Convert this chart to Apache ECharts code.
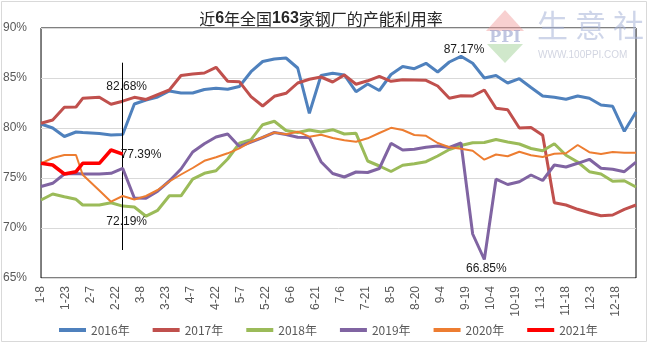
<!DOCTYPE html>
<html><head><meta charset="utf-8">
<script src="https://cdn.jsdelivr.net/npm/echarts@6/dist/echarts.min.js"></script>
<style>html,body{margin:0;padding:0;background:#fff}#c{width:649px;height:344px}</style>
</head><body><div id="c"></div>
<script>
// Weekly report dates (shared by every year)
const dates = ['1-8','1-15','1-22','1-29','2-2','2-12','2-19','2-26','3-4','3-11','3-18','3-25','4-1','4-8','4-15','4-22','4-29','5-6','5-13','5-20','5-27','6-3','6-10','6-17','6-24','7-1','7-8','7-15','7-22','7-29','8-5','8-12','8-19','8-26','9-2','9-9','9-16','9-23','9-30','10-7','10-14','10-21','10-28','11-4','11-11','11-18','11-25','12-2','12-9','12-16','12-23','12-30'];
const tickLabels = ['1-8','1-23','2-7','2-22','3-8','3-23','4-7','4-22','5-7','5-22','6-6','6-21','7-6','7-21','8-5','8-20','9-4','9-19','10-4','10-19','11-3','11-18','12-3','12-18'];
const yTicks = [65,70,75,80,85,90];

const y2016 = [80.4,80.0,79.15,79.6,79.55,79.45,79.3,79.35,82.4,82.8,83.1,83.7,83.5,83.5,83.85,83.97,83.87,84.15,85.63,86.65,86.9,87.0,86.0,81.47,85.25,85.47,85.3,83.63,84.4,83.75,85.35,86.15,85.93,86.47,85.6,86.6,87.17,86.47,85.0,85.25,84.5,84.93,84.05,83.2,83.07,82.87,83.2,82.97,82.3,82.17,79.67,81.6];
const y2017 = [80.47,80.8,82.07,82.1,82.97,83.07,82.37,82.68,83.07,82.85,83.33,83.8,85.25,85.4,85.5,86.07,84.67,84.63,83.13,82.2,83.17,83.47,84.5,84.88,85.1,84.6,85.3,84.38,84.72,85.17,84.67,84.83,84.8,84.77,84.2,82.97,83.22,83.2,83.8,81.97,81.83,80.0,80.05,79.27,72.53,72.3,71.87,71.53,71.22,71.3,71.87,72.3];
const y2018 = [72.8,73.4,73.13,72.87,72.3,72.3,72.53,72.19,72.1,71.18,71.77,73.22,73.22,74.88,75.47,75.72,76.9,78.47,78.83,80.33,80.67,79.75,79.55,79.8,79.6,79.83,79.4,79.47,76.7,76.2,75.65,76.27,76.42,76.63,77.2,77.85,78.25,78.52,78.55,78.85,78.6,78.4,77.95,77.72,78.43,77.27,76.6,75.63,75.4,74.67,74.72,74.1];
const y2019 = [74.15,74.47,75.4,75.45,75.4,75.4,75.47,75.97,73.0,72.97,73.68,74.7,75.9,77.6,78.43,79.1,79.4,78.15,78.6,79.05,79.55,79.35,79.07,79.05,76.63,75.45,75.1,75.6,75.55,75.95,78.47,77.8,77.87,78.07,78.2,78.05,78.5,69.4,66.85,74.88,74.35,74.63,75.3,74.75,76.3,76.1,76.47,76.87,75.97,75.87,75.63,76.58];
const y2020 = [76.47,77.0,77.3,77.3,75.33,73.75,72.63,73.2,72.85,73.2,73.8,74.65,75.35,76.0,76.72,77.07,77.47,77.97,78.63,79.08,79.55,79.38,79.63,79.13,79.33,79.0,78.77,78.63,78.97,79.5,80.02,79.8,79.3,79.22,78.5,78.08,77.93,77.72,76.83,77.35,77.17,77.63,77.27,77.1,77.43,77.47,78.3,77.58,77.4,77.6,77.53,77.53];
const y2021 = [76.47,76.3,75.4,75.63,76.47,76.47,77.8,77.39];

const names = ['2016年','2017年','2018年','2019年','2020年','2021年'];
const colors = ['#4f81bd','#c0504d','#9bbb59','#8064a2','#ed7d31','#ff0000'];
const widths = [3,3,3,3,2,3.5];

const mdays = [31,29,31,30,31,30,31,31,30,31,30,31];
function dayOf(s){const p=s.split('-').map(Number);let d=p[1];for(let i=0;i<p[0]-1;i++)d+=mdays[i];return d;}
const xs = dates.map(dayOf);
const tickDays = tickLabels.map(dayOf);

function pts(arr){return arr.map((v,i)=>[xs[i],v]);}
function mp(arr,i,pos,off){return {coord:[xs[i],arr[i]],value:arr[i],label:{position:pos,offset:off}};}

const allY=[y2016,y2017,y2018,y2019,y2020,y2021];
const marks = {
  0:[mp(y2016,36,'top',[3,4])],
  1:[mp(y2017,7,'top',[4,-4])],
  2:[mp(y2018,7,'bottom',[4,5])],
  3:[mp(y2019,38,'bottom',[2,-2])],
  5:[mp(y2021,7,'right',[-7,1])]
};
const lastIdx = y2021.length-1;

const series = allY.map((arr,k)=>{
  const s = {name:names[k],type:'line',data:pts(arr),showSymbol:false,symbol:'none',
    lineStyle:{color:colors[k],width:widths[k]},itemStyle:{color:colors[k]},
    z:2+k,animation:false};
  if(marks[k]) s.markPoint={symbol:'circle',symbolSize:0,silent:true,itemStyle:{color:'transparent'},
    label:{show:true,formatter:p=>p.value.toFixed(2)+'%',color:'#1a1a1a',fontSize:12,fontFamily:'Liberation Sans'},data:marks[k]};
  return s;
});
series[5].markLine={symbol:'none',silent:true,animation:false,label:{show:false},
  lineStyle:{color:'#000',width:1,type:'solid'},
  data:[[{coord:[xs[lastIdx],86.53]},{coord:[xs[lastIdx],67.8]}]]};

const chart = echarts.init(document.getElementById('c'),null,{renderer:'canvas'});
chart.setOption({
  animation:false,
  backgroundColor:'#fff',
  title:{text:'近{b|6}年全国{b|163}家钢厂的产能利用率',left:316,textAlign:'center',top:6,
    textStyle:{fontSize:16,fontWeight:'normal',color:'#262626',fontFamily:'Noto Sans CJK SC',
      rich:{b:{fontSize:16,fontWeight:'bold',color:'#262626',fontFamily:'Liberation Sans'}}}},
  legend:{data:names,left:54,top:319,icon:'rect',itemWidth:27,itemHeight:4,itemGap:23,
    textStyle:{fontSize:12,color:'#595959',fontFamily:'Noto Sans CJK SC'}},
  grid:{left:41,right:13,top:28,bottom:66,show:true,borderColor:'#000',borderWidth:1,backgroundColor:'transparent'},
  xAxis:{type:'value',min:xs[0],max:xs[xs.length-1],
    axisLine:{show:false},axisTick:{show:false},splitLine:{show:false},
    axisLabel:{customValues:tickDays,rotate:90,margin:8,fontSize:12,color:'#595959',fontFamily:'Liberation Sans',
      formatter:v=>{const i=tickDays.indexOf(v);return i>=0?tickLabels[i]:'';}}},
  yAxis:{type:'value',min:yTicks[0],max:yTicks[yTicks.length-1],interval:5,
    axisLine:{show:false},axisTick:{show:false},
    splitLine:{lineStyle:{color:'#d9d9d9',width:1}},
    axisLabel:{formatter:'{value}%',margin:14,fontSize:12,color:'#595959',fontFamily:'Liberation Sans'}},
  graphic:[
    {type:'rect',shape:{x:1.5,y:1.5,width:645,height:340},style:{fill:'none',stroke:'#d9d9d9',lineWidth:1},z:-10,silent:true},
    {type:'polygon',shape:{points:[[486,31],[524,31],[505,10]]},style:{fill:'rgba(240,150,150,0.45)'},z:100,silent:true},
    {type:'polygon',shape:{points:[[487,44],[523,44],[505,63]]},style:{fill:'rgba(150,205,140,0.45)'},z:100,silent:true},
    {type:'text',x:505,y:30,style:{text:'PPI',fill:'rgba(150,160,205,0.6)',font:'bold 16px "DejaVu Serif"',textAlign:'center'},z:100,silent:true},
    {type:'text',x:537,y:10,style:{text:'生 意 社',fill:'rgba(165,178,215,0.55)',font:'31px "Noto Sans CJK SC"'},z:100,silent:true},
    {type:'text',x:538,y:50,style:{text:'WWW.100PPI.COM',fill:'rgba(180,185,205,0.6)',font:'10px "Liberation Sans"'},z:100,silent:true}
  ],
  series:series
});
</script></body></html>
